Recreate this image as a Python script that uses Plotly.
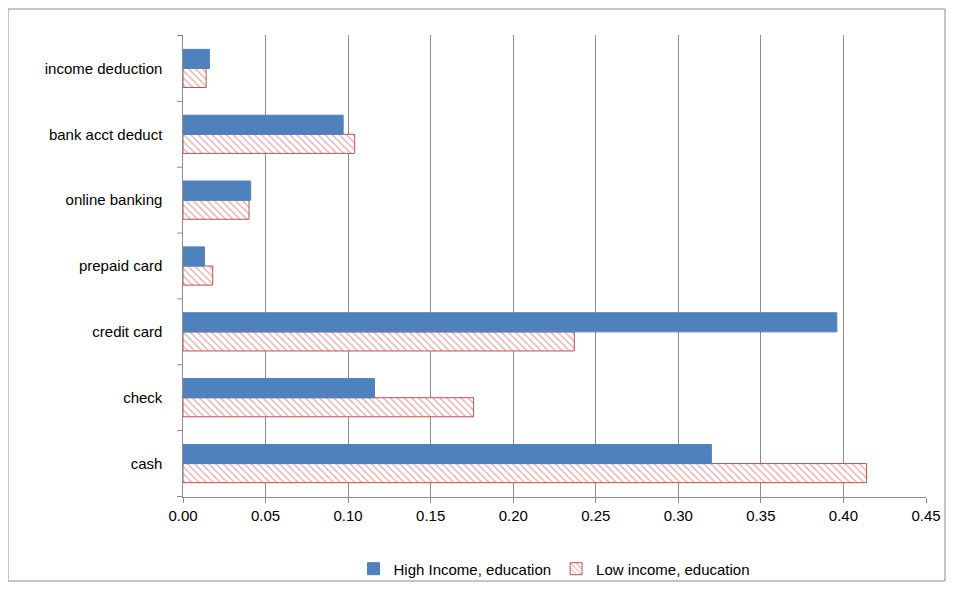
import plotly.graph_objects as go

categories = ["cash", "check", "credit card", "prepaid card", "online banking",
              "bank acct deduct", "income deduction"]
high_income = [0.320, 0.116, 0.396, 0.013, 0.041, 0.097, 0.016]
low_income = [0.414, 0.176, 0.237, 0.018, 0.040, 0.104, 0.014]
x_ticks = [0.0, 0.05, 0.10, 0.15, 0.20, 0.25, 0.30, 0.35, 0.40, 0.45]

fig = go.Figure()
fig.add_bar(y=categories, x=low_income, orientation="h", name="Low income, education",
            marker=dict(color="white", line=dict(color="#c0504d", width=1),
                        pattern=dict(shape="\\", fgcolor="#c0504d", bgcolor="white",
                                     size=5, solidity=0.25)))
fig.add_bar(y=categories, x=high_income, orientation="h", name="High Income, education",
            marker=dict(color="#4f81bd", line=dict(color="#4f81bd", width=1)))

# page body adds an 8px margin, so the figure is slightly smaller than the window
W, H = 938, 574
ml, mr, mt, mb = 175, 20, 27, 85
pw, ph = W - ml - mr, H - mt - mb
fig.update_layout(
    width=W, height=H, barmode="group", bargap=0.42, bargroupgap=0,
    plot_bgcolor="white", paper_bgcolor="white",
    font=dict(family="Liberation Sans, Arial", size=15, color="black"),
    margin=dict(l=ml, r=mr, t=mt, b=mb, autoexpand=False),
    xaxis=dict(range=[0, 0.45], tickvals=x_ticks, ticktext=[f"{v:.2f}" for v in x_ticks],
               showgrid=True, gridcolor="#8c8c8c", zeroline=False,
               showline=True, linecolor="#8c8c8c", ticks="outside", ticklen=5,
               tickcolor="#8c8c8c"),
    yaxis=dict(showgrid=False, showline=True, linecolor="#8c8c8c", ticks="", ticklen=0,
               ticksuffix="    "),
    legend=dict(orientation="h", x=0.5, xanchor="center", y=-0.12, yanchor="top",
                traceorder="reversed", font=dict(size=15), bgcolor="rgba(0,0,0,0)",
                itemwidth=30),
    showlegend=True,
)
# category separator ticks on the y axis
for i in range(len(categories) + 1):
    yv = i - 0.5
    fig.add_shape(type="line", xref="paper", yref="y", x0=-6 / pw, x1=0, y0=yv, y1=yv,
                  line=dict(color="#8c8c8c", width=1))
# outer chart frame
fig.add_shape(type="rect", xref="paper", yref="paper",
              x0=-ml / pw, x1=(W - 1 - ml) / pw,
              y0=-(mb - 1) / ph, y1=1 + (mt - 1) / ph,
              line=dict(color="#8c8c8c", width=1), layer="below")
fig.write_html("out.html")
